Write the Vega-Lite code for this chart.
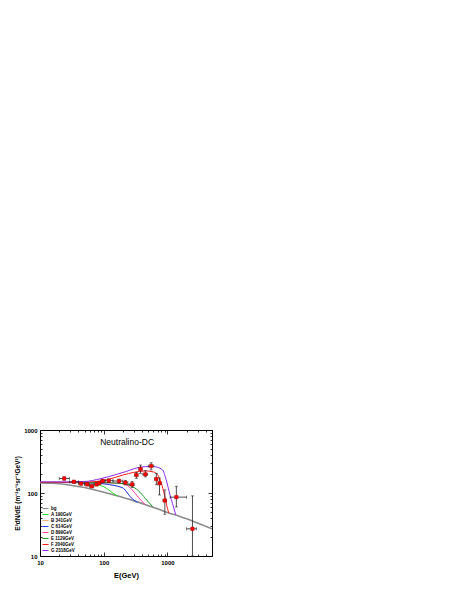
{
  "$schema": "https://vega.github.io/schema/vega-lite/v6.json",
  "autosize": {"type": "none"},
  "padding": {"left": 40, "top": 430, "right": 245, "bottom": 35},
  "width": 172,
  "height": 126,
  "background": "white",
  "config": {
    "view": {"stroke": "black", "strokeWidth": 1},
    "font": "Liberation Sans",
    "axis": {"labelFont": "Liberation Sans", "titleFont": "Liberation Sans", "labelColor": "black", "titleColor": "black", "tickColor": "black", "domain": false, "grid": false, "labelOverlap": false}
  },
  "datasets": {
    "curves": [
      {"s": "bg", "x": 10, "y": 145}, {"s": "bg", "x": 15, "y": 143}, {"s": "bg", "x": 20, "y": 140}, {"s": "bg", "x": 30, "y": 133}, {"s": "bg", "x": 50, "y": 122}, {"s": "bg", "x": 70, "y": 113}, {"s": "bg", "x": 100, "y": 103}, {"s": "bg", "x": 150, "y": 92}, {"s": "bg", "x": 200, "y": 85}, {"s": "bg", "x": 300, "y": 75}, {"s": "bg", "x": 500, "y": 63}, {"s": "bg", "x": 700, "y": 56}, {"s": "bg", "x": 1000, "y": 49}, {"s": "bg", "x": 1500, "y": 43}, {"s": "bg", "x": 2000, "y": 39}, {"s": "bg", "x": 3000, "y": 33}, {"s": "bg", "x": 5000, "y": 27},
      {"s": "A 190GeV", "x": 10, "y": 147}, {"s": "A 190GeV", "x": 20, "y": 147}, {"s": "A 190GeV", "x": 40, "y": 146}, {"s": "A 190GeV", "x": 60, "y": 143}, {"s": "A 190GeV", "x": 80, "y": 136}, {"s": "A 190GeV", "x": 100, "y": 126}, {"s": "A 190GeV", "x": 120, "y": 112}, {"s": "A 190GeV", "x": 140, "y": 99}, {"s": "A 190GeV", "x": 165, "y": 89},
      {"s": "B 341GeV", "x": 10, "y": 147}, {"s": "B 341GeV", "x": 50, "y": 146}, {"s": "B 341GeV", "x": 100, "y": 140}, {"s": "B 341GeV", "x": 150, "y": 131}, {"s": "B 341GeV", "x": 180, "y": 125}, {"s": "B 341GeV", "x": 210, "y": 116}, {"s": "B 341GeV", "x": 240, "y": 97}, {"s": "B 341GeV", "x": 280, "y": 81},
      {"s": "C 614GeV", "x": 10, "y": 147}, {"s": "C 614GeV", "x": 50, "y": 146}, {"s": "C 614GeV", "x": 100, "y": 140}, {"s": "C 614GeV", "x": 150, "y": 131}, {"s": "C 614GeV", "x": 180, "y": 125}, {"s": "C 614GeV", "x": 210, "y": 116}, {"s": "C 614GeV", "x": 240, "y": 97}, {"s": "C 614GeV", "x": 280, "y": 81}, {"s": "C 614GeV", "x": 340, "y": 71},
      {"s": "D 899GeV", "x": 10, "y": 147}, {"s": "D 899GeV", "x": 50, "y": 147}, {"s": "D 899GeV", "x": 100, "y": 146}, {"s": "D 899GeV", "x": 150, "y": 144}, {"s": "D 899GeV", "x": 200, "y": 140}, {"s": "D 899GeV", "x": 240, "y": 130}, {"s": "D 899GeV", "x": 280, "y": 112}, {"s": "D 899GeV", "x": 350, "y": 85}, {"s": "D 899GeV", "x": 450, "y": 65},
      {"s": "E 1129GeV", "x": 10, "y": 147}, {"s": "E 1129GeV", "x": 50, "y": 147}, {"s": "E 1129GeV", "x": 100, "y": 146}, {"s": "E 1129GeV", "x": 150, "y": 144}, {"s": "E 1129GeV", "x": 200, "y": 141}, {"s": "E 1129GeV", "x": 250, "y": 134}, {"s": "E 1129GeV", "x": 300, "y": 122}, {"s": "E 1129GeV", "x": 350, "y": 109}, {"s": "E 1129GeV", "x": 450, "y": 82}, {"s": "E 1129GeV", "x": 590, "y": 60},
      {"s": "F 2040GeV", "x": 10, "y": 148}, {"s": "F 2040GeV", "x": 30, "y": 148}, {"s": "F 2040GeV", "x": 50, "y": 149}, {"s": "F 2040GeV", "x": 80, "y": 153}, {"s": "F 2040GeV", "x": 120, "y": 165}, {"s": "F 2040GeV", "x": 200, "y": 193}, {"s": "F 2040GeV", "x": 300, "y": 213}, {"s": "F 2040GeV", "x": 450, "y": 224}, {"s": "F 2040GeV", "x": 600, "y": 216}, {"s": "F 2040GeV", "x": 700, "y": 195}, {"s": "F 2040GeV", "x": 800, "y": 145}, {"s": "F 2040GeV", "x": 900, "y": 92}, {"s": "F 2040GeV", "x": 1000, "y": 57}, {"s": "F 2040GeV", "x": 1050, "y": 48},
      {"s": "G 2318GeV", "x": 10, "y": 150}, {"s": "G 2318GeV", "x": 30, "y": 150}, {"s": "G 2318GeV", "x": 50, "y": 152}, {"s": "G 2318GeV", "x": 88, "y": 168}, {"s": "G 2318GeV", "x": 160, "y": 198}, {"s": "G 2318GeV", "x": 220, "y": 218}, {"s": "G 2318GeV", "x": 300, "y": 243}, {"s": "G 2318GeV", "x": 450, "y": 262}, {"s": "G 2318GeV", "x": 600, "y": 263}, {"s": "G 2318GeV", "x": 830, "y": 235}, {"s": "G 2318GeV", "x": 950, "y": 165}, {"s": "G 2318GeV", "x": 1100, "y": 92}, {"s": "G 2318GeV", "x": 1200, "y": 68}, {"s": "G 2318GeV", "x": 1350, "y": 45}
    ],
    "pts": [
      {"x": 24, "y": 170, "xlo": 20, "xhi": 29, "ylo": 160, "yhi": 180},
      {"x": 34, "y": 151, "xlo": 29, "xhi": 40, "ylo": 143, "yhi": 159},
      {"x": 44, "y": 141, "xlo": 40, "xhi": 50, "ylo": 134, "yhi": 148},
      {"x": 55, "y": 137, "xlo": 50, "xhi": 60, "ylo": 130, "yhi": 144},
      {"x": 65, "y": 128, "xlo": 60, "xhi": 70, "ylo": 121, "yhi": 135},
      {"x": 77, "y": 137, "xlo": 70, "xhi": 82, "ylo": 130, "yhi": 144},
      {"x": 85, "y": 144, "xlo": 82, "xhi": 90, "ylo": 136, "yhi": 152},
      {"x": 96, "y": 155, "xlo": 90, "xhi": 105, "ylo": 145, "yhi": 165},
      {"x": 120, "y": 157, "xlo": 105, "xhi": 140, "ylo": 147, "yhi": 167},
      {"x": 174, "y": 155, "xlo": 140, "xhi": 200, "ylo": 144, "yhi": 166},
      {"x": 219, "y": 146, "xlo": 200, "xhi": 240, "ylo": 134, "yhi": 159},
      {"x": 279, "y": 137, "xlo": 250, "xhi": 300, "ylo": 122, "yhi": 153},
      {"x": 326, "y": 193, "xlo": 305, "xhi": 345, "ylo": 171, "yhi": 213},
      {"x": 378, "y": 240, "xlo": 355, "xhi": 400, "ylo": 205, "yhi": 278},
      {"x": 450, "y": 198, "xlo": 410, "xhi": 490, "ylo": 180, "yhi": 226},
      {"x": 555, "y": 268, "xlo": 500, "xhi": 610, "ylo": 232, "yhi": 302},
      {"x": 670, "y": 167, "xlo": 630, "xhi": 700, "ylo": 135, "yhi": 205},
      {"x": 750, "y": 143, "xlo": 710, "xhi": 790, "ylo": 93, "yhi": 173},
      {"x": 910, "y": 76, "xlo": 850, "xhi": 960, "ylo": 46, "yhi": 112},
      {"x": 1380, "y": 86, "xlo": 1100, "xhi": 2000, "ylo": 60, "yhi": 128},
      {"x": 2470, "y": 27, "xlo": 2000, "xhi": 2860, "ylo": 10, "yhi": 90}
    ]
  },
  "resolve": {"axis": {"x": "independent", "y": "independent"}},
  "layer": [
    {
      "data": {"name": "curves"},
      "mark": {"type": "line", "interpolate": "monotone", "clip": true},
      "encoding": {
        "x": {"field": "x", "type": "quantitative", "scale": {"type": "log", "domain": [10, 5000], "nice": false},
          "axis": {"orient": "bottom", "title": "E(GeV)", "titleFontSize": 7.5, "titleFontWeight": "bold", "titlePadding": 4,
            "values": [10, 20, 30, 40, 50, 60, 70, 80, 90, 100, 200, 300, 400, 500, 600, 700, 800, 900, 1000, 2000, 3000, 4000, 5000],
            "format": "d", "labelExpr": "(datum.value==10||datum.value==100||datum.value==1000) ? datum.label : ''",
            "labelFontSize": 6, "labelFontWeight": "bold", "labelPadding": 7, "labelFlush": false,
            "tickSize": {"condition": {"test": "datum.value==10||datum.value==100||datum.value==1000", "value": -4}, "value": -2}, "tickWidth": 0.8}},
        "y": {"field": "y", "type": "quantitative", "scale": {"type": "log", "domain": [10, 1000], "nice": false},
          "axis": {"orient": "left", "title": "E³dN/dE  (m⁻²s⁻¹sr⁻¹GeV²)", "titleFontSize": 6.5, "titleFontWeight": "bold", "titlePadding": 3,
            "values": [10, 20, 30, 40, 50, 60, 70, 80, 90, 100, 200, 300, 400, 500, 600, 700, 800, 900, 1000],
            "format": "d", "labelExpr": "(datum.value==10||datum.value==100||datum.value==1000) ? datum.label : ''",
            "labelFontSize": 6, "labelFontWeight": "bold", "labelPadding": 7, "labelFlush": false,
            "tickSize": {"condition": {"test": "datum.value==10||datum.value==100||datum.value==1000", "value": -4}, "value": -2}, "tickWidth": 0.8}},
        "color": {"field": "s", "type": "nominal",
          "scale": {"domain": ["bg", "A 190GeV", "B 341GeV", "C 614GeV", "D 899GeV", "E 1129GeV", "F 2040GeV", "G 2318GeV"],
            "range": ["#8c8c8c", "#22dd22", "#f4b27a", "#2040ff", "#ff3aa0", "#1e9a2a", "#ff1a1a", "#8c2cf0"]},
          "legend": {"orient": "none", "legendX": 2, "legendY": 75, "title": null, "symbolType": "stroke", "symbolSize": 36, "symbolStrokeWidth": 1,
            "labelFontSize": 4.5, "labelFontWeight": "bold", "labelFont": "Liberation Sans", "rowPadding": 0, "labelOffset": 2, "padding": 0}},
        "strokeWidth": {"condition": {"test": "datum.s=='bg'", "value": 1.6}, "value": 1}
      }
    },
    {
      "data": {"name": "pts"},
      "mark": {"type": "rule", "color": "#222222", "strokeWidth": 0.8},
      "encoding": {
        "x": {"field": "xlo", "type": "quantitative", "scale": {"type": "log", "domain": [10, 5000], "nice": false}, "axis": null},
        "x2": {"field": "xhi"},
        "y": {"field": "y", "type": "quantitative", "scale": {"type": "log", "domain": [10, 1000], "nice": false}, "axis": null}
      }
    },
    {
      "data": {"name": "pts"},
      "mark": {"type": "rule", "color": "#222222", "strokeWidth": 0.8},
      "encoding": {
        "x": {"field": "x", "type": "quantitative", "scale": {"type": "log", "domain": [10, 5000], "nice": false}, "axis": null},
        "y": {"field": "ylo", "type": "quantitative", "scale": {"type": "log", "domain": [10, 1000], "nice": false}, "axis": null},
        "y2": {"field": "yhi"}
      }
    },
    {
      "data": {"name": "pts"},
      "mark": {"type": "tick", "orient": "horizontal", "color": "#222222", "size": 3, "thickness": 0.8},
      "encoding": {
        "x": {"field": "x", "type": "quantitative", "scale": {"type": "log", "domain": [10, 5000], "nice": false}, "axis": null},
        "y": {"field": "yhi", "type": "quantitative", "scale": {"type": "log", "domain": [10, 1000], "nice": false}, "axis": null}
      }
    },
    {
      "data": {"name": "pts"},
      "mark": {"type": "tick", "orient": "horizontal", "color": "#222222", "size": 3, "thickness": 0.8},
      "encoding": {
        "x": {"field": "x", "type": "quantitative", "scale": {"type": "log", "domain": [10, 5000], "nice": false}, "axis": null},
        "y": {"field": "ylo", "type": "quantitative", "scale": {"type": "log", "domain": [10, 1000], "nice": false}, "axis": null}
      }
    },
    {
      "data": {"name": "pts"},
      "mark": {"type": "tick", "orient": "vertical", "color": "#222222", "size": 3, "thickness": 0.8},
      "encoding": {
        "x": {"field": "xlo", "type": "quantitative", "scale": {"type": "log", "domain": [10, 5000], "nice": false}, "axis": null},
        "y": {"field": "y", "type": "quantitative", "scale": {"type": "log", "domain": [10, 1000], "nice": false}, "axis": null}
      }
    },
    {
      "data": {"name": "pts"},
      "mark": {"type": "tick", "orient": "vertical", "color": "#222222", "size": 3, "thickness": 0.8},
      "encoding": {
        "x": {"field": "xhi", "type": "quantitative", "scale": {"type": "log", "domain": [10, 5000], "nice": false}, "axis": null},
        "y": {"field": "y", "type": "quantitative", "scale": {"type": "log", "domain": [10, 1000], "nice": false}, "axis": null}
      }
    },
    {
      "data": {"name": "pts"},
      "mark": {"type": "square", "size": 12, "fill": "#ff0000", "stroke": "#aa0000", "strokeWidth": 0.4, "opacity": 1},
      "encoding": {
        "x": {"field": "x", "type": "quantitative", "scale": {"type": "log", "domain": [10, 5000], "nice": false},
          "axis": {"orient": "top", "title": null, "labels": false,
            "values": [10, 20, 30, 40, 50, 60, 70, 80, 90, 100, 200, 300, 400, 500, 600, 700, 800, 900, 1000, 2000, 3000, 4000, 5000],
            "tickSize": {"condition": {"test": "datum.value==10||datum.value==100||datum.value==1000", "value": -4}, "value": -2}, "tickWidth": 0.8}},
        "y": {"field": "y", "type": "quantitative", "scale": {"type": "log", "domain": [10, 1000], "nice": false},
          "axis": {"orient": "right", "title": null, "labels": false,
            "values": [10, 20, 30, 40, 50, 60, 70, 80, 90, 100, 200, 300, 400, 500, 600, 700, 800, 900, 1000],
            "tickSize": {"condition": {"test": "datum.value==10||datum.value==100||datum.value==1000", "value": -4}, "value": -2}, "tickWidth": 0.8}}
      }
    },
    {
      "data": {"values": [{"t": "Neutralino-DC"}]},
      "mark": {"type": "text", "fontSize": 8.5, "font": "Liberation Sans", "align": "center", "baseline": "middle", "color": "black"},
      "encoding": {
        "text": {"field": "t"},
        "x": {"datum": 233, "type": "quantitative", "scale": {"type": "log", "domain": [10, 5000], "nice": false}, "axis": null},
        "y": {"datum": 638, "type": "quantitative", "scale": {"type": "log", "domain": [10, 1000], "nice": false}, "axis": null}
      }
    }
  ]
}
